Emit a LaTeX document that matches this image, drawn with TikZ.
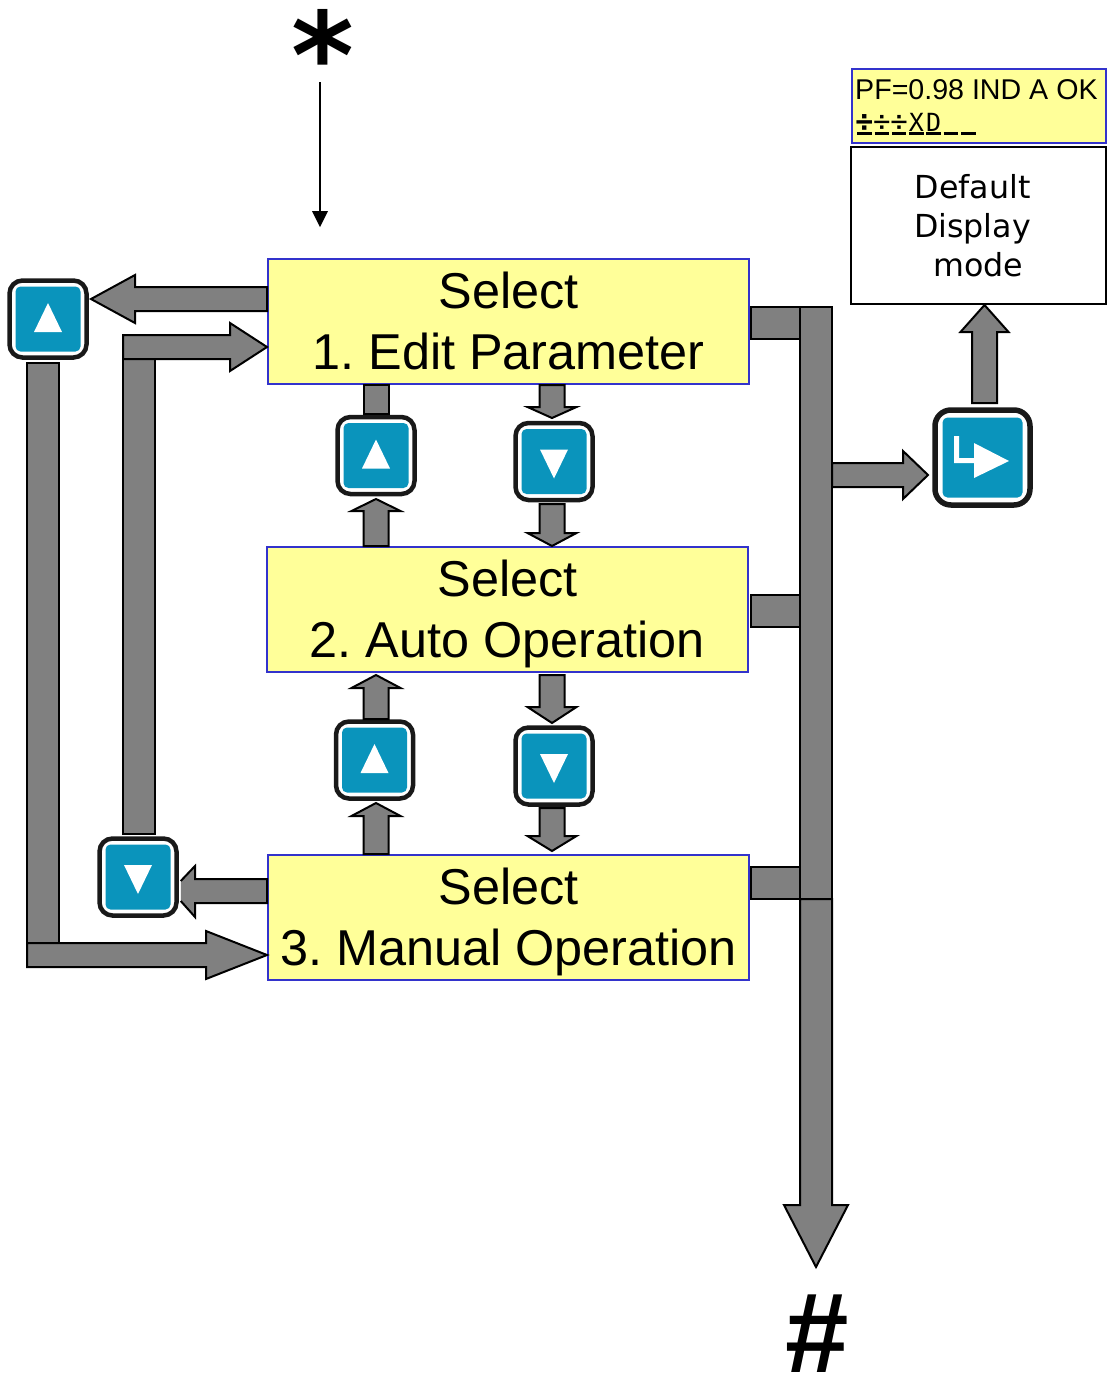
\documentclass[tikz,border=0pt]{standalone}
\usepackage{fontspec}
\setmainfont{Liberation Sans}
\newfontfamily\verd{DejaVu Sans}
\newfontfamily\lcdf{DejaVu Sans Mono}
\usetikzlibrary{calc}
\definecolor{boxyel}{HTML}{FFFF99}
\definecolor{boxblue}{HTML}{3333CC}
\definecolor{btnteal}{HTML}{0A94BC}
\definecolor{arrgray}{HTML}{808080}
\tikzset{
  menubox/.style={draw=boxblue,fill=boxyel,line width=2pt,minimum width=481pt,minimum height=125pt,inner sep=0pt,align=center,font=\fontsize{50.4}{61}\selectfont},
  arrowst/.style={draw=black,fill=arrgray,line width=2pt,line join=miter},
  btnout/.style={draw=black!90,fill=white,line width=4.5pt,rounded corners=13pt,minimum size=77pt,inner sep=0pt},
  btnin/.style={fill=btnteal,rounded corners=5pt,minimum size=65pt,inner sep=0pt},
  btnoutb/.style={draw=black!90,fill=white,line width=5.5pt,rounded corners=16pt,minimum size=95pt,inner sep=0pt},
  btninb/.style={fill=btnteal,rounded corners=5pt,minimum size=80pt,inner sep=0pt},
}
\newcommand\barr[5]{%
  \coordinate (ta) at #1; \coordinate (tb) at #2;
  \coordinate (th) at ($(tb)!#5!(ta)$);
  \draw[arrowst] ($(ta)!#3!90:(tb)$) -- ($(th)!#3!90:(tb)$) -- ($(th)!#4!90:(tb)$) -- (tb)
    -- ($(th)!#4!-90:(tb)$) -- ($(th)!#3!-90:(tb)$) -- ($(ta)!#3!-90:(tb)$) -- cycle;}
\newcommand\btnup[2]{\node[btnout] (#1) at (#2) {}; \node[btnin] (#1i) at (#1) {};
  \fill[white] ($(#1)+(0,-16)$) -- ($(#1)+(14,13)$) -- ($(#1)+(-14,13)$) -- cycle;}
\newcommand\btndn[2]{\node[btnout] (#1) at (#2) {}; \node[btnin] (#1i) at (#1) {};
  \fill[white] ($(#1)+(0,17)$) -- ($(#1)+(14,-12)$) -- ($(#1)+(-14,-12)$) -- cycle;}
\newcommand\lcdc[1]{\rlap{\rule[-3.5pt]{14.5pt}{2.5pt}}\makebox[14.5pt]{#1}\hspace{2.8pt}}
\newcommand\nodepth[1]{\raisebox{0pt}[\height][2pt]{#1}}
\begin{document}
\frenchspacing
\begin{tikzpicture}[x=1pt,y=-1pt]
\useasboundingbox (0,0) rectangle (1114,1377);
\node[menubox] (b1) at (508.5,321.5) {Select\\\nodepth{1. Edit Parameter}};
\node[menubox] (b2) at (507.5,609.5) {Select\\\nodepth{2. Auto Operation}};
\node[menubox] (b3) at (508.5,917.5) {Select\\\nodepth{3. Manual Operation}};
\node[inner sep=0pt,font=\verd\bfseries\fontsize{120}{120}\selectfont] (star) at (323,53.5) {*};
\node[inner sep=0pt,font=\bfseries\fontsize{114}{114}\selectfont] (hash) at (817,1334) {\#};
\coordinate (starend) at (320,82);
\draw[line width=1.3pt] (starend) -- (320,213);
\fill (312,211) coordinate (hl) -- (328,211) -- (320,227) coordinate (b1in) -- cycle;
% left loop
\btnup{bl}{48,319}
\btndn{bd}{138,877}
\barr{(b1.west|-0,299)}{(91,299)}{12pt}{24pt}{44pt}
\draw[arrowst] ($(bd.east|-0,881)+(2,0)$) -- (195,866) -- (195,879) -- (b3.west|-0,879) -- (b3.west|-0,903) -- (195,903) -- (195,917) -- ($(bd.east|-0,901)+(2,0)$);
\draw[arrowst] ($(bd.north)+(-15,-2)$) rectangle (155,347);
\barr{(123,347)}{(b1.west|-0,347)}{12pt}{24pt}{37pt}
\draw[arrowst] ($(bl.south)+(-21,3)$) rectangle (59,955);
\barr{(27,955)}{(b3.west|-0,955)}{12pt}{24pt}{61pt}
% centre
\btnup{u1}{376,455.5}
\btndn{d1}{554,461.5}
\btnup{u2}{374.5,760}
\btndn{d2}{554,766}
\draw[arrowst] (b1.south-|363.5,0) rectangle (388.5,414);
\barr{(b1.south-|552,0)}{(552,418)}{12.5pt}{24.5pt}{11pt}
\barr{(b2.north-|376,0)}{(376,499)}{12.5pt}{24.5pt}{12pt}
\barr{(552,504)}{(b2.north-|552,0)}{12.5pt}{24.5pt}{13pt}
\barr{(376,719)}{(376,675)}{12.5pt}{24.5pt}{13pt}
\barr{(552,675)}{(552,723)}{12.5pt}{24.5pt}{16pt}
\barr{(b3.north-|376,0)}{(376,803)}{12.5pt}{24.5pt}{13pt}
\barr{(552,808)}{(552,851)}{12.5pt}{24.5pt}{15pt}
% bus
\draw[arrowst] (751,307) rectangle (800,339);
\draw[arrowst] (751,595) rectangle (800,627);
\draw[arrowst] (751,867) rectangle (800,899);
\draw[arrowst] (800,307) rectangle (832,899);
\barr{(816,899)}{(816,1267)}{16pt}{32pt}{62pt}
% enter + default
\node[btnoutb] (ent) at (982.5,457.5) {};
\node[btninb] (enti) at (ent) {};
\fill[white] (954,436) -- (959,436) -- (959,458) -- (974,458) -- (974,443) -- (1009,461) -- (974,478) -- (974,463) -- (954,463) -- cycle;
\barr{(832,475)}{(928,475)}{12pt}{24pt}{25pt}
\node[draw=black,fill=white,line width=2pt,minimum width=255pt,minimum height=157pt,inner sep=0pt,align=center,font=\verd\fontsize{31.7}{39}\selectfont] (def) at (978.5,225.5) {\hspace*{-12pt}Default\\\hspace*{-12pt}Display\\mode};
\barr{(984.5,403)}{(def.south-|984.5,0)}{12.5pt}{24pt}{27pt}
% LCD
\node[draw=boxblue,fill=boxyel,line width=2pt,minimum width=254pt,minimum height=74pt,inner sep=0pt] (lcd) at (979,106) {};
\node[anchor=base west,inner sep=0pt,font=\fontsize{28.6}{31}\selectfont] (lcd1) at (855,99) {PF=0.98 IND A OK};
\node[anchor=base west,inner sep=0pt,font=\lcdf\fontsize{25}{26}\selectfont] (lcd2) at (857,131) {\lcdc{\fontsize{29}{29}\selectfont\bfseries ÷}\lcdc{\fontsize{29}{29}\selectfont ÷}\lcdc{\fontsize{29}{29}\selectfont ÷}\lcdc{X}\lcdc{D}\lcdc{ }\lcdc{ }};
\end{tikzpicture}
\end{document}
